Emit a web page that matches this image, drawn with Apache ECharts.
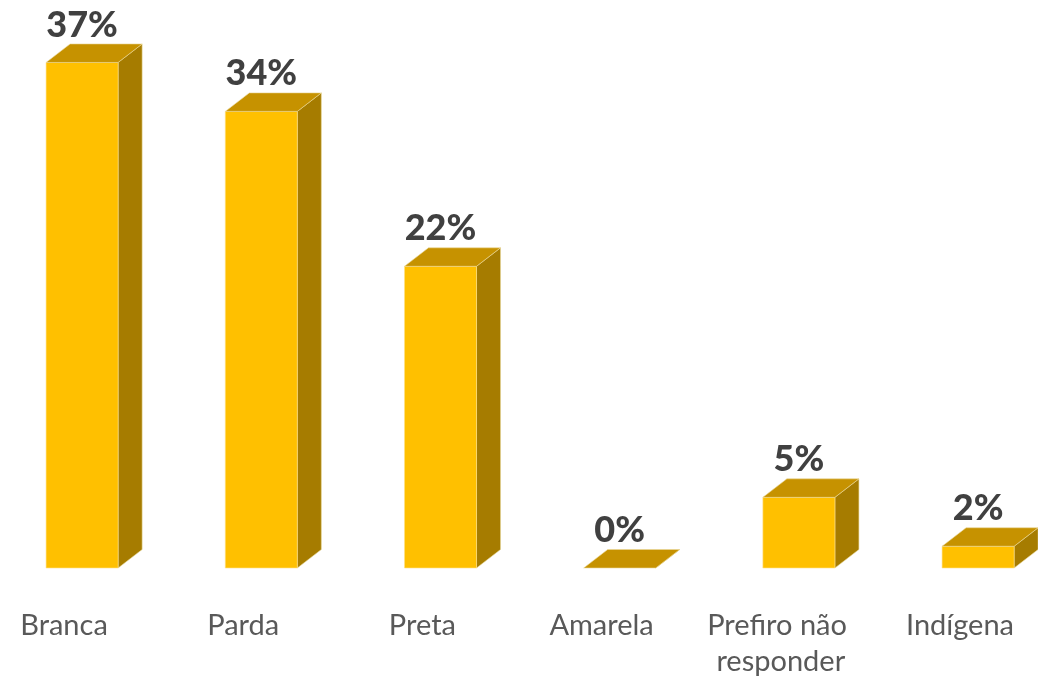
<!DOCTYPE html>
<html>
<head>
<meta charset="utf-8">
<script src="https://cdn.jsdelivr.net/npm/echarts@6/dist/echarts.min.js"></script>
<style>
html,body{margin:0;padding:0;background:#fff;}
#chart{width:1038px;height:678px;}
</style>
</head>
<body>
<div id="chart"></div>
<script>
var categories = ['Branca', 'Parda', 'Preta', 'Amarela', 'Prefiro não responder', 'Indígena'];
var values = [37.2, 33.6, 22.2, 0, 5.2, 1.6];

var chart = echarts.init(document.getElementById('chart'), null, {renderer: 'canvas'});

function renderBar(params, api) {
  var idx = api.value(0);
  var v = api.value(1);
  var base = api.coord([idx, 0]);
  var top = api.coord([idx, v]);
  var band = api.size([1, 0])[0];
  var c = base[0];
  var xl = c - band * 0.1;
  var xr = xl + band * 0.402;
  var dx = band * 0.134;
  var dy = 18.5;
  var y0 = base[1];
  var y1 = top[1];
  var children = [];
  children.push({
    type: 'polygon',
    shape: {points: [[xr, y1], [xr + dx, y1 - dy], [xr + dx, y0 - dy], [xr, y0]]},
    style: {fill: '#A67C00', stroke: '#E8D89A', lineWidth: 0.6}
  });
  if (y0 - y1 > 0.5) {
    children.push({
      type: 'rect',
      shape: {x: xl, y: y1, width: xr - xl, height: y0 - y1},
      style: {fill: '#FFC000', stroke: '#FFE08A', lineWidth: 0.6}
    });
  }
  children.push({
    type: 'polygon',
    shape: {points: [[xl, y1], [xl + dx, y1 - dy], [xr + dx, y1 - dy], [xr, y1]]},
    style: {fill: '#C69200', stroke: '#EBD89A', lineWidth: 0.6}
  });
  children.push({
    type: 'text',
    x: (xl + xr) / 2,
    y: y1 - dy - 1,
    style: {
      text: Math.round(v) + '%',
      fill: '#404040',
      font: '900 36px Lato',
      align: 'center',
      verticalAlign: 'bottom'
    }
  });
  return {type: 'group', children: children};
}

var option = {
  animation: false,
  backgroundColor: '#ffffff',
  grid: {left: -25.6, right: -11.6, top: 24.4, bottom: 110, containLabel: false, outerBoundsMode: 'none'},
  xAxis: {
    type: 'category',
    data: categories,
    axisLine: {show: false},
    axisTick: {show: false},
    axisLabel: {
      interval: 0,
      margin: 40,
      color: '#595959',
      fontFamily: 'Lato',
      fontSize: 29,
      lineHeight: 36,
      width: 170,
      overflow: 'break'
    }
  },
  yAxis: {
    type: 'value',
    min: 0,
    max: 40,
    show: false,
    splitLine: {show: false}
  },
  series: [{
    type: 'custom',
    clip: false,
    renderItem: renderBar,
    encode: {x: 0, y: 1},
    data: values.map(function (v, i) { return [i, v]; })
  }]
};
chart.setOption(option);
</script>
</body>
</html>
